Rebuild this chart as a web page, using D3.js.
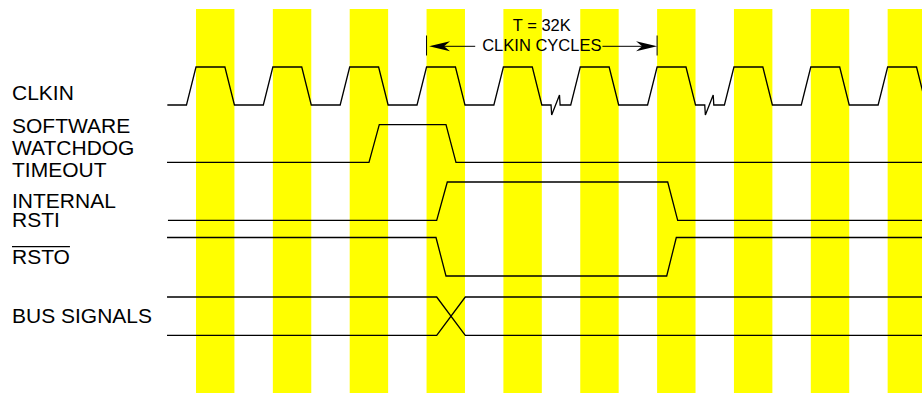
<!DOCTYPE html>
<html>
<head>
<meta charset="utf-8">
<script src="https://cdn.jsdelivr.net/npm/d3@7"></script>
<style>
  html, body { margin: 0; padding: 0; background: #fff; }
  svg { display: block; }
  text { font-family: "Liberation Sans", Arial, Helvetica, sans-serif; fill: #000; }
</style>
</head>
<body>
<svg id="chart" width="922" height="393"></svg>
<script>
// ---------------- DATA (times in CLKIN cycles) ----------------
const clockCycles = [0, 1, 2, 3, 4, 5, 6, 7, 8, 9];        // highlighted CLKIN high phases
const clockBreaks = [4.62, 6.62];                          // time-compression marks on CLKIN
const signalLabels = [
  ["CLKIN"],
  ["SOFTWARE", "WATCHDOG", "TIMEOUT"],
  ["INTERNAL", "RSTI"],
  ["RSTO"],
  ["BUS SIGNALS"]
];
// waveforms: [time, level]
const watchdogWave = [[-0.377, 0], [2.251, 0], [2.385, 1], [3.253, 1], [3.383, 0], [9.5, 0]];
const rstiWave     = [[-0.365, 0], [3.132, 0], [3.270, 1], [6.138, 1], [6.268, 0], [9.5, 0]];
const rstoWave     = [[-0.377, 1], [3.123, 1], [3.253, 0], [6.125, 0], [6.250, 1], [9.5, 1]];
const busUpper     = [[-0.377, 1], [3.132, 1], [3.504, 0], [9.5, 0]];
const busLower     = [[-0.377, 0], [3.132, 0], [3.504, 1], [9.5, 1]];
const clockStart = -0.373;
const annotation = { from: 3, to: 6, line1: "T = 32K", line2: "CLKIN CYCLES" };

// ---------------- LAYOUT ----------------
const svg = d3.select("#chart");
const x = d3.scaleLinear().domain([0, 10]).range([196, 964.5]);
const rise = 0.124;          // edge duration in cycles
const rows = {               // [lowY, highY]
  clk: [105, 67],
  wd: [162.3, 124.7],
  rsti: [220.3, 182],
  rsto: [276, 237.5],
  bus: [335.3, 297]
};
const yOf = (row) => d3.scaleLinear().domain([0, 1]).range(rows[row]);

// yellow bands
svg.append("g").selectAll("rect").data(clockCycles).join("rect")
  .attr("x", d => x(d))
  .attr("y", 9)
  .attr("width", d => x(d + 0.5) - x(d))
  .attr("height", 393 - 9)
  .attr("fill", "#ffff00");

const line = (row) => { const y = yOf(row); return d3.line().x(d => x(d[0])).y(d => y(d[1])); };
const g = svg.append("g").attr("fill", "none").attr("stroke", "#000").attr("stroke-width", 1.3);

// clock waveform
(function () {
  const yc = yOf("clk");
  const pts = [[clockStart, 0]];
  const lowPx = rows.clk[0];
  clockCycles.forEach((c, i) => {
    if (i > 0) {
      const prevEnd = clockCycles[i - 1] + 0.5;
      clockBreaks.filter(b => b > prevEnd && b < c - rise).forEach(b => {
        pts.push([b, 0]);
        pts.push([b + 0.008, yc.invert(lowPx + 10)]);
        pts.push([b + 0.11, yc.invert(lowPx - 10)]);
        pts.push([b + 0.118, 0]);
      });
    }
    pts.push([c - rise, 0], [c, 1], [c + 0.5 - rise, 1], [c + 0.5, 0]);
  });
  g.append("path").attr("d", line("clk")(pts));
})();

g.append("path").attr("d", line("wd")(watchdogWave));
g.append("path").attr("d", line("rsti")(rstiWave));
g.append("path").attr("d", line("rsto")(rstoWave));
g.append("path").attr("d", line("bus")(busUpper));
g.append("path").attr("d", line("bus")(busLower));

// labels
const labelY = [[100], [133.3, 155, 176.7], [208.3, 227.3], [264.3], [323.3]];
const lg = svg.append("g").attr("font-size", "20px").attr("transform", "translate(12,0) scale(1.05,1)");
signalLabels.forEach((lines, i) => {
  lines.forEach((t, j) => {
    lg.append("text").attr("x", 0).attr("y", labelY[i][j]).text(t);
  });
});
// overline for active-low RSTO
(function () {
  const t = lg.selectAll("text").filter(function () { return this.textContent === "RSTO"; });
  const bb = t.node().getBBox();
  svg.append("line").attr("x1", 12 + bb.x * 1.05).attr("x2", 12 + (bb.x + bb.width) * 1.05)
    .attr("y1", 246.7).attr("y2", 246.7).attr("stroke", "#000").attr("stroke-width", 1.2);
})();

// annotation: T = 32K CLKIN CYCLES
(function () {
  const xa = x(annotation.from), xb = x(annotation.to), xm = (xa + xb) / 2;
  const ay = 46.3;
  const ag = svg.append("g");
  ag.append("text").attr("x", xm).attr("y", 30.7).attr("text-anchor", "middle")
    .attr("font-size", "16.5px").text(annotation.line1);
  const t2 = ag.append("text").attr("x", xm).attr("y", 50.7).attr("text-anchor", "middle")
    .attr("font-size", "16.5px").text(annotation.line2);
  const bb = t2.node().getBBox();
  const s = ag.append("g").attr("stroke", "#000").attr("stroke-width", 1);
  s.append("line").attr("x1", xa).attr("x2", xa).attr("y1", 35.5).attr("y2", 55.5);
  s.append("line").attr("x1", xb).attr("x2", xb).attr("y1", 35.5).attr("y2", 55.5);
  s.append("line").attr("x1", xa + 15).attr("x2", bb.x - 7).attr("y1", ay).attr("y2", ay);
  s.append("line").attr("x1", bb.x + bb.width + 1).attr("x2", xb - 15).attr("y1", ay).attr("y2", ay);
  const head = (tip, dir) => {
    const p = d3.path();
    p.moveTo(tip, ay);
    p.lineTo(tip + dir * 21, ay - 5);
    p.lineTo(tip + dir * 15, ay);
    p.lineTo(tip + dir * 21, ay + 5);
    p.closePath();
    return p.toString();
  };
  ag.append("path").attr("d", head(xa + 2.5, 1)).attr("fill", "#000");
  ag.append("path").attr("d", head(xb, -1)).attr("fill", "#000");
})();
</script>
</body>
</html>
